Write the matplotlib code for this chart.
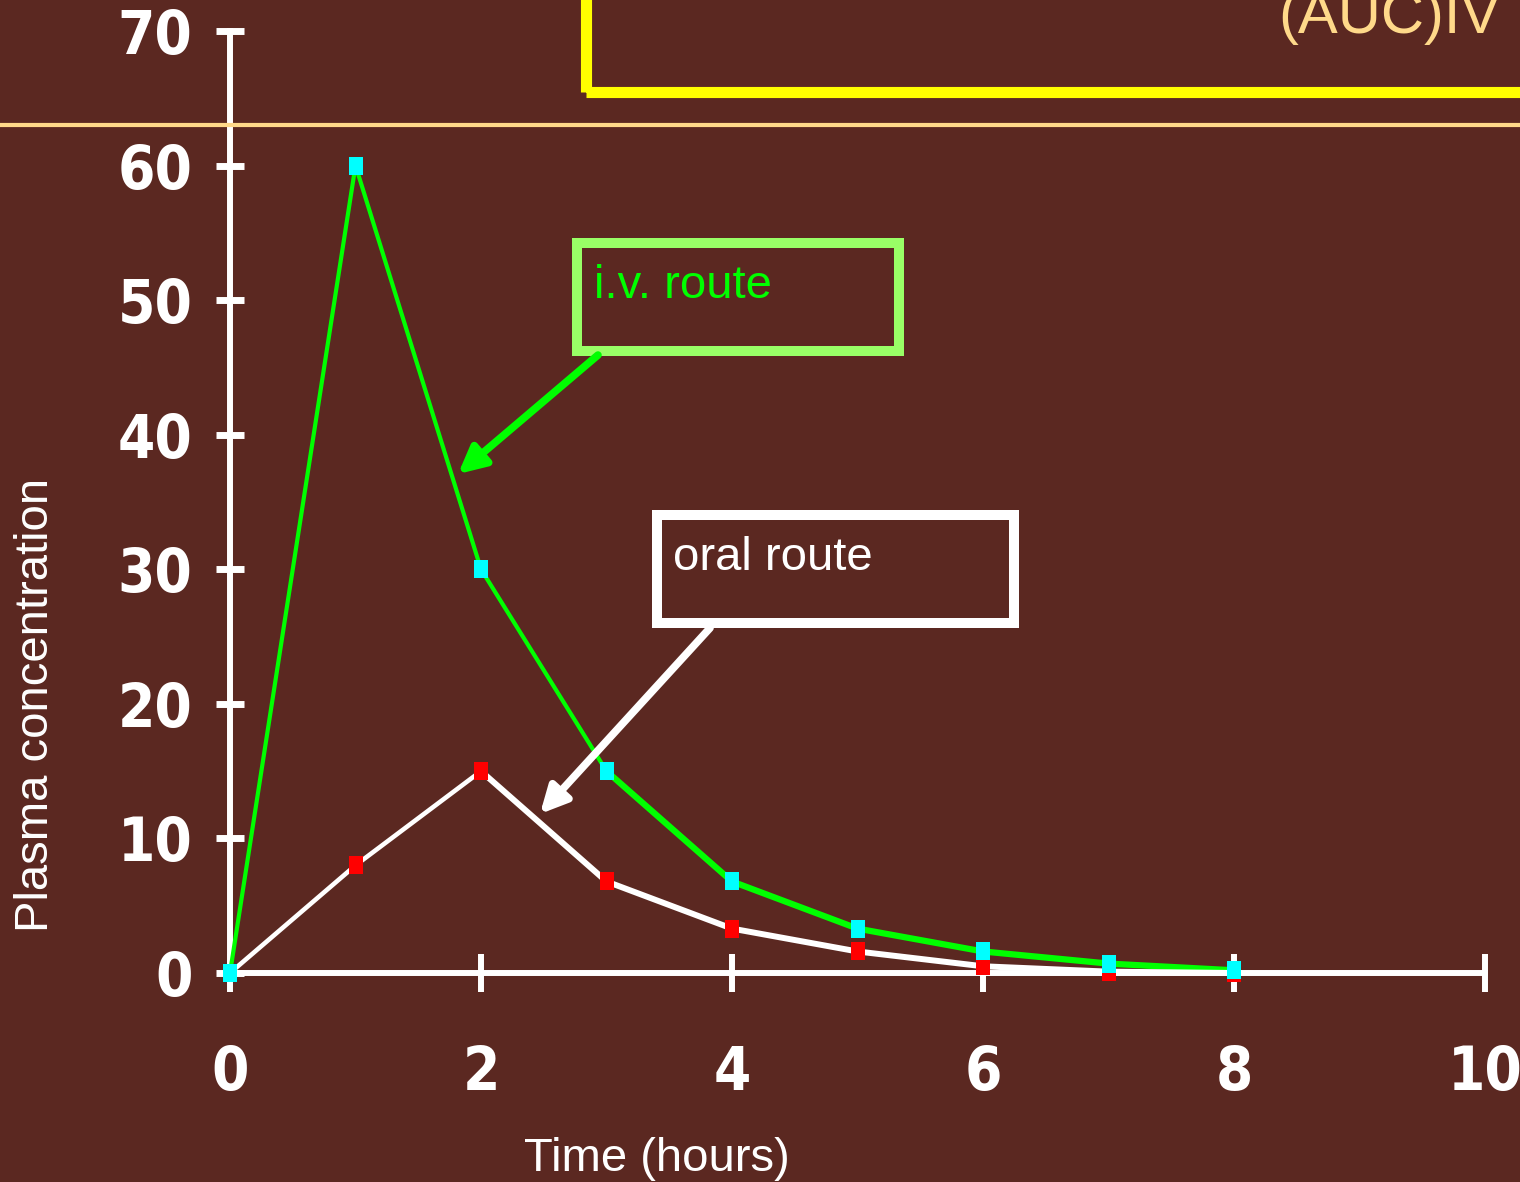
import matplotlib
matplotlib.use("Agg")
import matplotlib.pyplot as plt
from matplotlib import font_manager
from matplotlib.font_manager import FontProperties
from matplotlib.patches import Rectangle
from matplotlib.lines import Line2D
import matplotlib.transforms as mtransforms

# ---- data ----
time_hours = [0, 1, 2, 3, 4, 5, 6, 7, 8]
iv_conc = [0, 60, 30, 15, 6.8, 3.3, 1.6, 0.7, 0.2]
oral_conc = [0, 8, 15, 6.8, 3.3, 1.6, 0.5, 0.1, 0.0]
x_ticks = [0, 2, 4, 6, 8, 10]
y_ticks = [0, 10, 20, 30, 40, 50, 60, 70]
iv_label = "i.v. route"
oral_label = "oral route"
auc_label = "(AUC)IV"
x_title = "Time (hours)"
y_title = "Plasma concentration"

BG = "#5B2821"
fm = font_manager.fontManager
names = {f.name for f in fm.ttflist}
sans = "Liberation Sans" if "Liberation Sans" in names else "DejaVu Sans"

# find a condensed / narrow bold font for the tick labels
cands = []
for f in fm.ttflist:
    key = (f.name + " " + f.fname).lower()
    if ("narrow" in key or "condensed" in key or "cond" in key) and \
            (str(f.weight) in ("bold", "700", "800", "900") or "bold" in key):
        if "oblique" in key or "italic" in key:
            continue
        score = 0 if "liberation" in key else (1 if "dejavu" in key else 2)
        cands.append((score, f.fname))
cands.sort()
TICK_SIZE = 43
if cands:
    tick_fp = FontProperties(fname=cands[0][1], size=TICK_SIZE)
    tick_fp.set_weight("bold")
else:
    tick_fp = FontProperties(family="DejaVu Sans", weight="bold", size=TICK_SIZE,
                             stretch="condensed")

fig = plt.figure(figsize=(15.2, 11.82), dpi=100, facecolor=BG)
ax = fig.add_axes([230 / 1520, 209 / 1182, 1255 / 1520, 942 / 1182])
ax.set_facecolor(BG)
ax.patch.set_alpha(0)
ax.set_xlim(0, 10)
ax.set_ylim(0, 70)

for s in ["top", "right"]:
    ax.spines[s].set_visible(False)
for s in ["left", "bottom"]:
    ax.spines[s].set_color("white")
    ax.spines[s].set_linewidth(4.3)
    ax.spines[s].set_zorder(2)

ax.set_xticks(x_ticks)
ax.set_yticks(y_ticks)
ax.tick_params(axis="y", direction="inout", length=20, width=5, color="white",
               labelcolor="white", pad=17)
ax.tick_params(axis="x", direction="inout", length=28, width=4.3, color="white",
               labelcolor="white", pad=37)
for lab in ax.get_xticklabels() + ax.get_yticklabels():
    lab.set_fontproperties(tick_fp)

# full-width horizontal line
tr = mtransforms.blended_transform_factory(fig.transFigure, ax.transData)
fig.add_artist(Line2D([0, 1], [63, 63], transform=tr, color="#FFD98A", lw=3, zorder=1))

# series lines (thin first part, thicker later part)
ax.plot(time_hours[:4], iv_conc[:4], color="#00FF00", lw=3.0, zorder=3, clip_on=False,
        solid_capstyle="round")
ax.plot(time_hours[3:], iv_conc[3:], color="#00FF00", lw=4.5, zorder=3, clip_on=False,
        solid_capstyle="round")
ax.plot(time_hours[:3], oral_conc[:3], color="white", lw=3.3, zorder=3.5, clip_on=False,
        solid_capstyle="round")
ax.plot(time_hours[2:], oral_conc[2:], color="white", lw=4.3, zorder=3.5, clip_on=False,
        solid_capstyle="round")

rect_marker = [(-13, -18), (13, -18), (13, 18), (-13, 18), (-13, -18)]
ax.plot(time_hours, oral_conc, ls="none", marker=rect_marker, ms=13, color="#FF0000",
        markeredgewidth=0, zorder=4, clip_on=False)
ax.plot(time_hours, iv_conc, ls="none", marker=rect_marker, ms=13, color="#00FFFF",
        markeredgewidth=0, zorder=4.5, clip_on=False)

# annotation boxes
ax.add_patch(Rectangle((2.765, 46.22), 5.331 - 2.765, 54.25 - 46.22, fill=False,
                       edgecolor="#99FF66", lw=7.2, zorder=5, clip_on=False))
ax.text(2.90, 50.16, iv_label, color="#00FF00", fontsize=34, family=sans,
        ha="left", va="baseline", zorder=6)
ax.add_patch(Rectangle((3.402, 26.01), 6.247 - 3.402, 34.03 - 26.01, fill=False,
                       edgecolor="white", lw=7.2, zorder=5, clip_on=False))
ax.text(3.53, 29.95, oral_label, color="white", fontsize=34, family=sans,
        ha="left", va="baseline", zorder=6)

# yellow box (partly off-figure)
ax.add_patch(Rectangle((2.835, 65.43), 12, 20, fill=False, edgecolor="#FFFF00",
                       lw=8, zorder=5, clip_on=False))
ax.text(10.12, 69.85, auc_label, color="#FFD98A", fontsize=43, family=sans,
        ha="right", va="baseline", zorder=6, clip_on=False)

# arrows
ax.annotate("", xy=(1.817, 37.08), xytext=(2.932, 45.92),
            arrowprops=dict(arrowstyle="-|>,head_length=1.6,head_width=0.8",
                            color="#00FF00", lw=5.5, shrinkA=0, shrinkB=0),
            zorder=6)
ax.annotate("", xy=(2.470, 11.82), xytext=(3.825, 25.64),
            arrowprops=dict(arrowstyle="-|>,head_length=1.6,head_width=0.8",
                            color="white", lw=5.5, shrinkA=0, shrinkB=0),
            zorder=6)

# axis titles
fig.text(657 / 1520, (1182 - 1171) / 1182, x_title, color="white", fontsize=34,
         family=sans, ha="center", va="baseline")
fig.text(36 / 1520, (1182 - 705) / 1182, y_title, color="white", fontsize=34,
         family=sans, ha="center", va="center", rotation=90)

fig.savefig("out.png", dpi=100, facecolor=BG)
